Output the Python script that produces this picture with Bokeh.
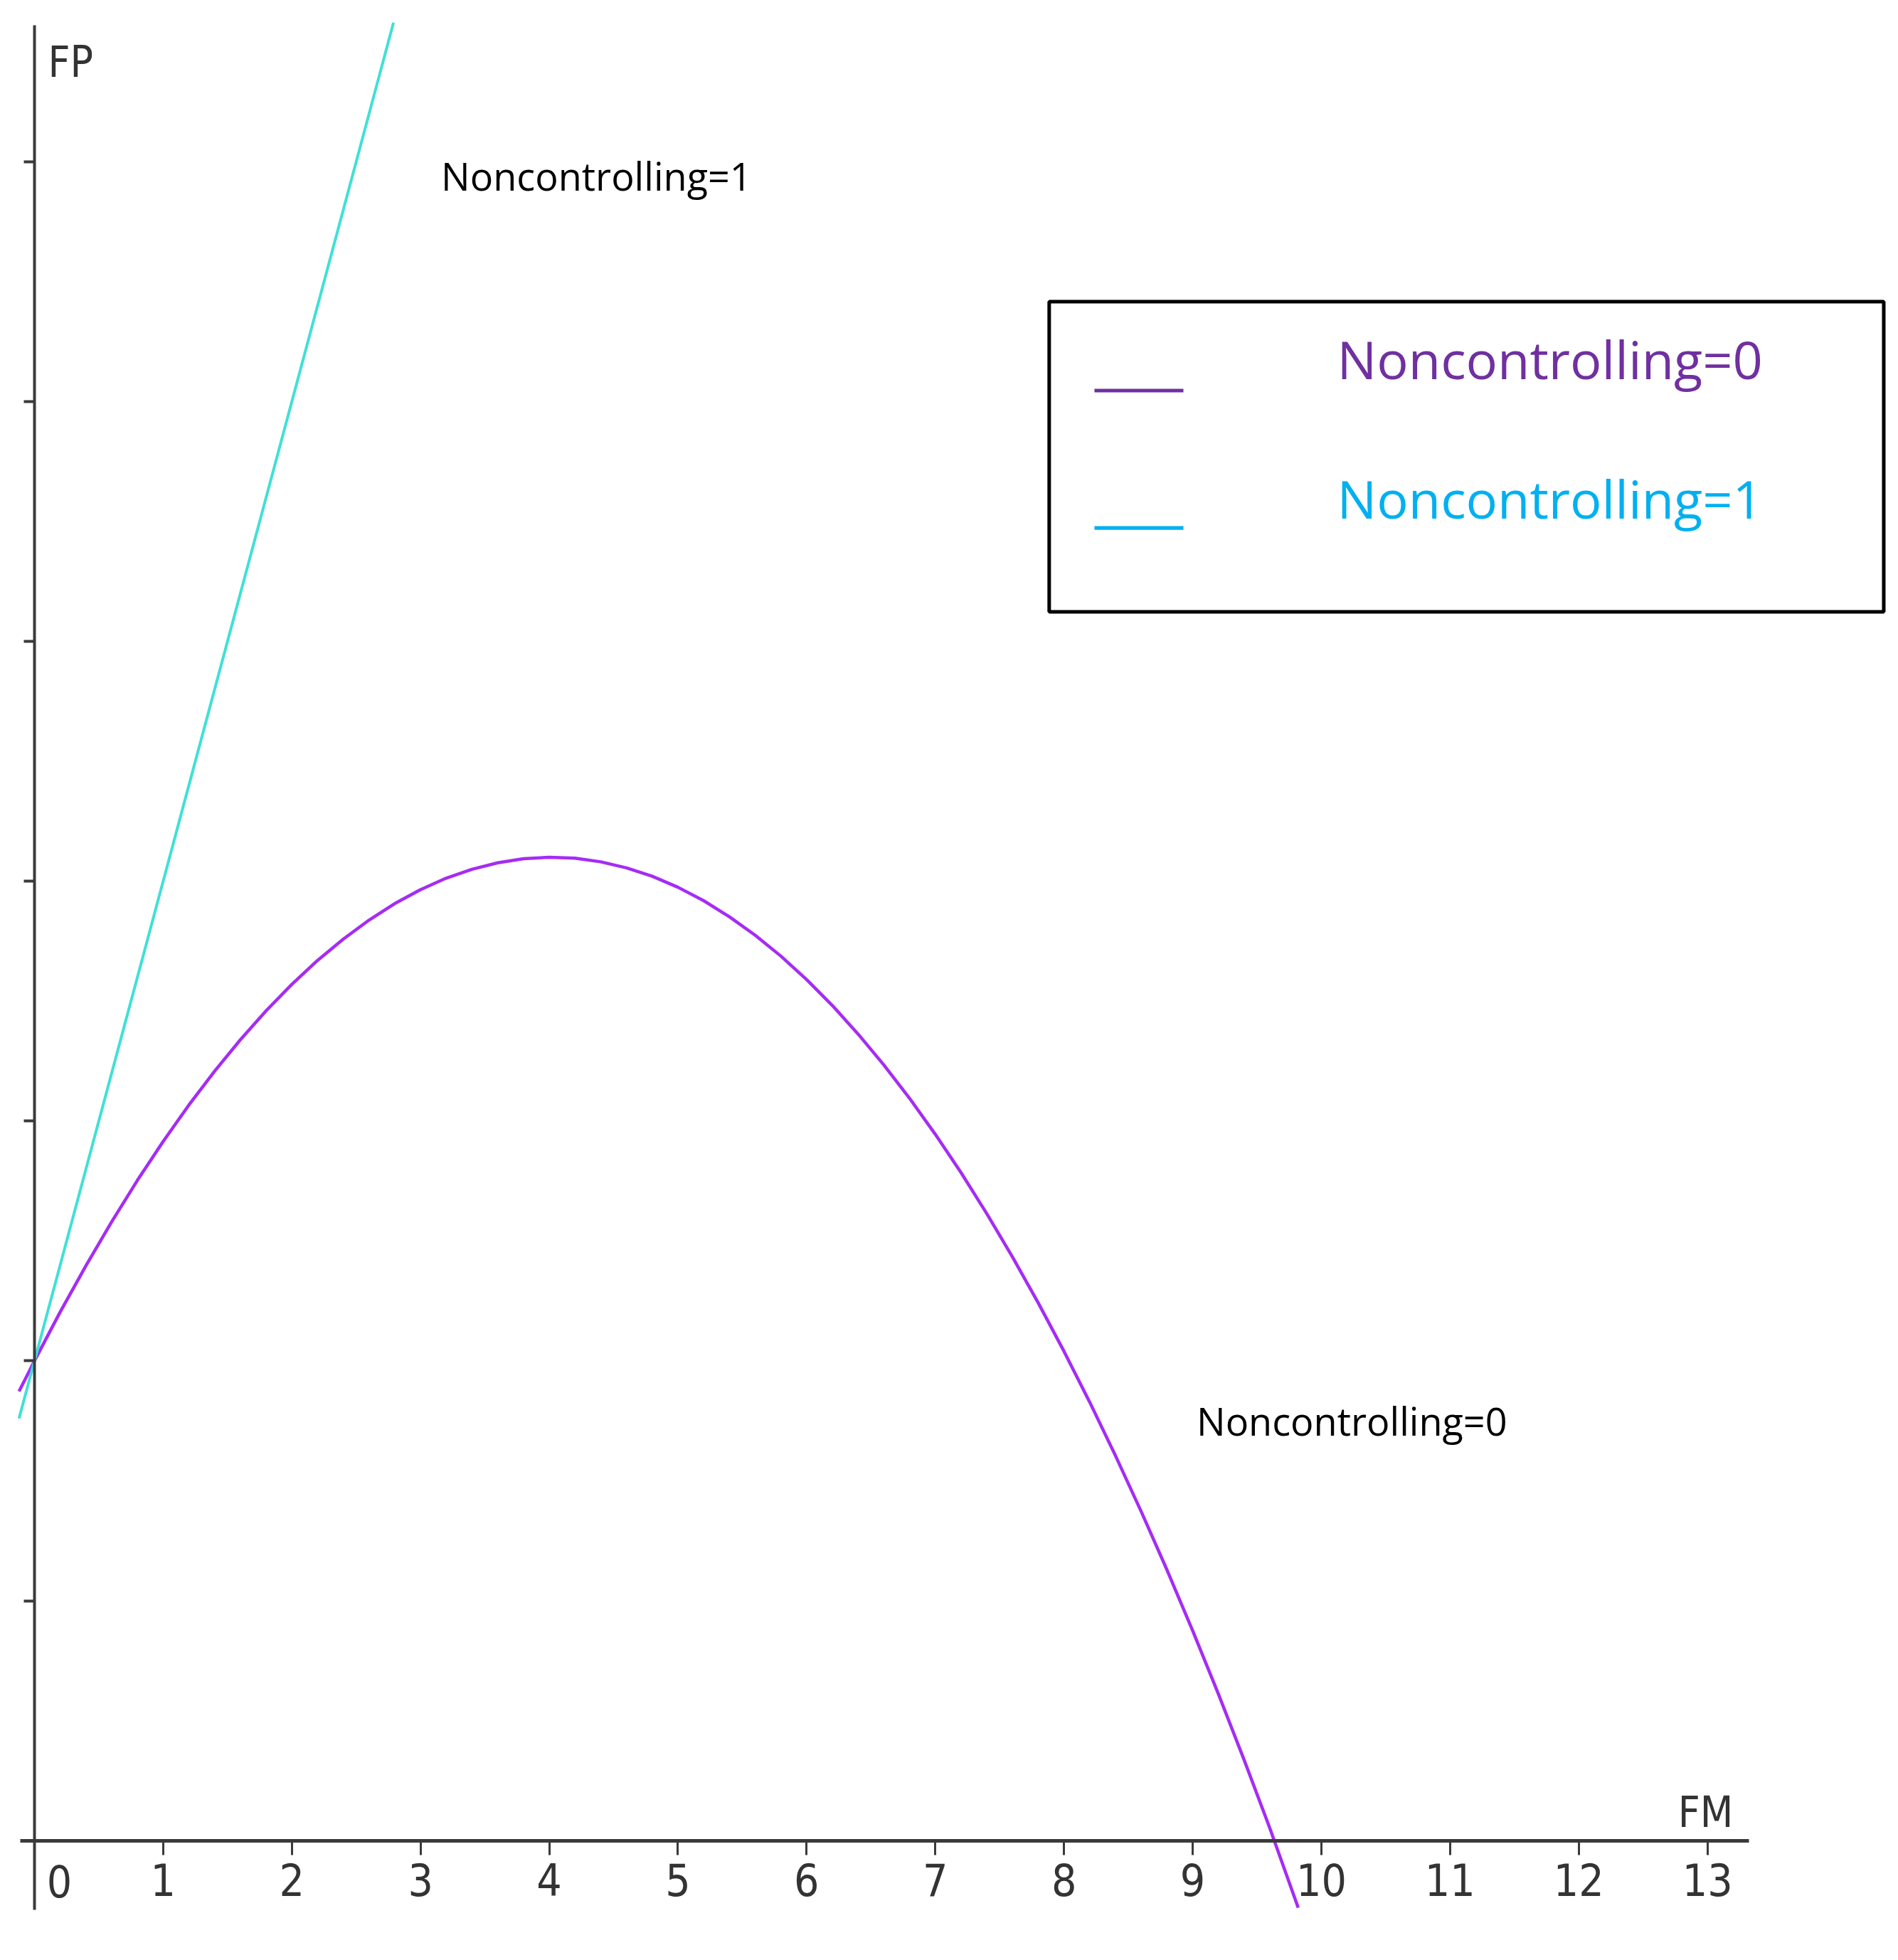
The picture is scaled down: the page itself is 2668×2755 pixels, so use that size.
from bokeh.plotting import figure
from bokeh.models import Range1d, Label, FixedTicker, BoxAnnotation
from bokeh.embed import file_html
from bokeh.resources import INLINE

# ---- data ----
fm_nc0 = [-0.12, 0.0, 0.2, 0.4, 0.6, 0.8, 1.0, 1.2, 1.4, 1.6, 1.8, 2.0, 2.2, 2.4, 2.6,
          2.8, 3.0, 3.2, 3.4, 3.6, 3.8, 4.0, 4.2, 4.4, 4.6, 4.8, 5.0, 5.2, 5.4, 5.6,
          5.8, 6.0, 6.2, 6.4, 6.6, 6.8, 7.0, 7.2, 7.4, 7.6, 7.8, 8.0, 8.2, 8.4, 8.6,
          8.8, 9.0, 9.2, 9.4, 9.6, 9.82]
fp_nc0 = [1.873, 2.000, 2.204, 2.397, 2.580, 2.753, 2.915, 3.067, 3.208, 3.339, 3.460,
          3.570, 3.670, 3.759, 3.838, 3.907, 3.965, 4.013, 4.050, 4.077, 4.094, 4.100,
          4.096, 4.081, 4.056, 4.021, 3.975, 3.919, 3.852, 3.775, 3.688, 3.590, 3.482,
          3.363, 3.234, 3.095, 2.945, 2.785, 2.614, 2.433, 2.242, 2.040, 1.828, 1.605,
          1.372, 1.129, 0.875, 0.611, 0.336, 0.051, -0.280]
fm_nc1 = [-0.12, 0.0, 1.0, 2.0, 2.79]
fp_nc1 = [1.76, 2.00, 4.00, 6.00, 7.58]
x_ticks = [1, 2, 3, 4, 5, 6, 7, 8, 9, 10, 11, 12, 13]
y_ticks = [1, 2, 3, 4, 5, 6, 7]
series_names = ["Noncontrolling=0", "Noncontrolling=1"]
line_colors = ["#A52CF5", "#40E0D6"]
legend_colors = ["#7030A0", "#00B0F0"]

NARROW = "'Liberation Sans Narrow', 'DejaVu Sans Condensed', sans-serif"
AXC = "#3a3a3a"

p = figure(width=2652, height=2739,
           x_range=Range1d(-0.265, 14.395), y_range=Range1d(-0.452, 7.673),
           output_backend="svg", toolbar_location=None, min_border=0)
p.outline_line_color = None
p.grid.visible = False
p.background_fill_color = "white"

# axes through the origin
xa = p.xaxis[0]
xa.fixed_location = 0
xa.bounds = (-0.11, 13.32)
xa.ticker = FixedTicker(ticks=x_ticks)
xa.minor_tick_line_color = None
xa.axis_line_color = AXC
xa.axis_line_width = 5
xa.major_tick_line_color = AXC
xa.major_tick_line_width = 3
xa.major_tick_in = 0
xa.major_tick_out = 20
xa.major_label_standoff = 12
xa.major_label_text_font = NARROW
xa.major_label_text_font_size = "62px"
xa.major_label_text_color = "#333333"

ya = p.yaxis[0]
ya.fixed_location = 0
ya.bounds = (-0.29, 7.57)
ya.ticker = FixedTicker(ticks=y_ticks)
ya.minor_tick_line_color = None
ya.axis_line_color = AXC
ya.axis_line_width = 4
ya.major_tick_line_color = AXC
ya.major_tick_line_width = 4
ya.major_tick_in = 0
ya.major_tick_out = 15
ya.major_label_overrides = {t: "" for t in y_ticks}

# curves
p.line(fm_nc0, fp_nc0, line_color=line_colors[0], line_width=4.5)
p.line(fm_nc1, fp_nc1, line_color=line_colors[1], line_width=4)

# axis names and the origin label
p.add_layout(Label(x=0, y=0, text="0", x_offset=35, y_offset=-34, text_align="center",
                   text_baseline="top", text_font=NARROW, text_font_size="62px",
                   text_color="#333333"))
p.add_layout(Label(x=0.105, y=7.521, text="FP", text_baseline="top", text_font=NARROW,
                   text_font_size="60px", text_color="#333333"))
p.add_layout(Label(x=13.20, y=0.12, text="FM", text_align="right", text_baseline="alphabetic",
                   text_font=NARROW, text_font_size="60px", text_color="#333333"))

# in-plot curve labels
p.add_layout(Label(x=3.16, y=6.943, text=series_names[1], text_font="Open Sans",
                   text_font_size="54px", text_color="black", text_baseline="alphabetic"))
p.add_layout(Label(x=9.03, y=1.752, text=series_names[0], text_font="Open Sans",
                   text_font_size="54px", text_color="black", text_baseline="alphabetic"))

# legend box
p.add_layout(BoxAnnotation(left=7.885, right=14.37, top=6.417, bottom=5.123,
                           fill_color=None, fill_alpha=0, line_color="black",
                           line_alpha=1.0, line_width=5))
sw_left, sw_right = 8.237, 8.928
sw_y = [6.046, 5.473]
txt_y = [6.178, 5.597]
for i in range(2):
    p.add_layout(BoxAnnotation(left=sw_left, right=sw_right, top=sw_y[i] + 0.0075,
                               bottom=sw_y[i] - 0.0075, fill_color=legend_colors[i],
                               fill_alpha=1.0, line_color=None))
    p.add_layout(Label(x=10.122, y=txt_y[i], text=series_names[i], text_font="Open Sans",
                       text_font_size="74px", text_color=legend_colors[i],
                       text_baseline="alphabetic"))

open("out.html", "w").write(file_html(p, INLINE))
